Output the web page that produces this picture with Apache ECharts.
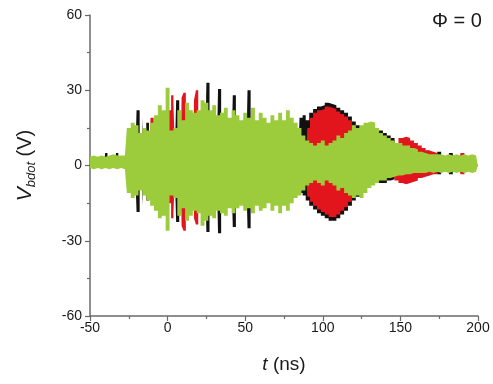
<!DOCTYPE html>
<html>
<head>
<meta charset="utf-8">
<script src="https://cdn.jsdelivr.net/npm/echarts@6/dist/echarts.min.js"></script>
<style>html,body{margin:0;padding:0;background:#fff}#c{width:493px;height:384px}</style>
</head>
<body>
<div id="c"></div>
<script>
// ---- data: envelopes of the oscillating signals ----
const greenT = [-50,-47.5,-45,-42.5,-40,-37.5,-35,-32.5,-30,-27.5,
  -25,-22.5,-20,-17.5,-15,-12.5,-10,-7.5,-5,-2.5,
  0,2.5,5,7.5,10,12.5,15,17.5,20,22.5,
  25,27.5,30,32.5,35,37.5,40,42.5,45,47.5,
  50,52.5,55,57.5,60,62.5,65,67.5,70,72.5,
  75,77.5,80,82.5,85,87.5,90,92.5,95,97.5,
  100,102.5,105,107.5,110,112.5,115,117.5,120,122.5,
  125,127.5,130,132.5,135,137.5,140,142.5,145,147.5,
  150,152.5,155,157.5,160,162.5,165,167.5,170,172.5,
  175,177.5,180,182.5,185,187.5,190,192.5,195,197.5,200];
const greenHi = [3.5,4,3.5,4,3.5,4,4.5,4,4,4,
  15,17,16,13,15,14,17,20,24,22,
  31,14,15,22,18,25,22,21,22,26,
  25,22,24,20,21,23,19,22,20,18,
  21,19,23,18,21,19,17,20,18,21,
  18,22,19,17,15,12,10,9,8,9,
  10,8,9,10,12,11,13,14,16,15,
  16,17,17.5,17,15,13,12,11,10,9,
  9,8,8,7,6.5,5.5,5,4.5,4.5,4.5,
  4.5,4,4.5,4,4.5,4,4.5,4,4.5,4,4];
const greenLo = [-1,-1.5,-1,-1.5,-1,-1.5,-1,-1.5,-1,-1.5,
  -11,-13,-12,-10,-12,-14,-16,-18,-21,-20,
  -26,-12,-13,-20,-17,-22,-20,-18,-19,-24,
  -22,-20,-21,-18,-19,-20,-17,-19,-17,-16,
  -18,-17,-19,-16,-18,-17,-15,-18,-16,-19,
  -16,-18,-15,-13,-12,-10,-8,-7,-6,-7,
  -8,-6,-7,-8,-10,-9,-11,-12,-13,-12,
  -13,-11,-9,-8,-7,-6,-6,-5,-4.5,-4,
  -4,-3.5,-3.5,-3,-3,-3,-3,-2.5,-3,-2.5,
  -3,-2.5,-3,-2.5,-3,-2.5,-3,-2.5,-3,-2.5,-3];

const blackT = [-50,-41,-39.5,-38,-34,-32.5,-31,-21,-19,-17,-16,-14.5,-13,-11,
  4.5,6.5,8.5,24,26,28,31.5,33.5,35.5,41,43,45,50.5,52.5,54.5,
  84,86,88,90,92.5,95,97.5,100,102.5,105,107.5,110,112.5,115,117.5,120,122.5,125,127.5,
  135,137.5,140,142.5,145,147.5,150,165,167.5,170,172.5,175,177.5,180,182.5,185,200];
const blackHi = [0,0,5,0,0,5,0,0,22,0,19,0,17,0,
  0,26,0,0,33,0,0,30.5,0,0,28,0,0,30,0,
  0,19,20,18,21,22.5,23.5,24,25,24.5,24,23,22,21,19.5,17.5,16,14,0,
  0,14,13,12,11,0,0,0,6,0,0,5.5,0,0,5,0,0];
const blackLo = [0,0,0,0,0,0,0,0,-18.5,0,-16,0,-14,0,
  0,-22.5,0,0,-26.5,0,0,-27,0,0,-24.5,0,0,-25,0,
  0,-11,-12,-14,-16,-17.5,-19,-20,-21,-22,-22,-21,-19.5,-18,-16,-14,-12.5,-11,0,
  0,-7,-7,-6,-5.5,0,0,0,-4,0,0,-3.5,0,0,-3.5,0,0];

const redT = [-50,-12,-10,-8,0,1.5,3,4.5,5.5,8.5,9.5,11,12.5,16.5,17.5,19,20.5,
  89,91,92.5,95,97.5,100,102.5,105,107.5,110,112.5,115,117.5,120,122.5,125,
  145,147.5,150,152.5,155,157.5,160,162.5,165,167.5,170,172.5,175,187.5,190,192.5,200];
const redHi = [0,0,19,0,0,22,28,25,0,0,27,29,0,0,26,30,0,
  0,15,19,21,22,22.5,23.5,23,22.5,21.5,20.5,19.5,18,16,14.5,0,
  0,9,11,11.5,11,10,9,8,7,6,5.5,5,0,0,5,0,0];
const redLo = [0,0,-13,0,0,-15,-21,-19,0,0,-24,-26,0,0,-21,-23.5,0,
  0,-12.5,-14.5,-16,-17.5,-18.5,-19.5,-20.5,-20.5,-19.5,-18,-16.5,-14.5,-12.5,-11,0,
  0,-6,-7,-7.5,-7,-6.5,-6,-5,-4.5,-4,-3.5,-3.5,0,0,-3.5,0,0];

const xTicks = {min: -50, max: 200, interval: 50};
const yTicks = {min: -60, max: 60, interval: 30};

// ---- chart ----
const FONT = '"Liberation Sans", Arial, sans-serif';
function pairs(t, v) { return t.map((x, i) => [x, v[i]]); }
function band(name, color, t, v, origin, z) {
  return {
    name: name, type: 'line', step: 'middle', data: pairs(t, v), z: z,
    showSymbol: false, silent: true, animation: false,
    lineStyle: {width: 0, opacity: 0, color: color},
    itemStyle: {color: color},
    areaStyle: {color: color, opacity: 1, origin: origin}
  };
}
const BLACK = '#111111', RED = '#e3151c', GREEN = '#9ccb3b';
const chart = echarts.init(document.getElementById('c'), null, {renderer: 'canvas'});
chart.setOption({
  backgroundColor: '#ffffff',
  animation: false,
  grid: {left: 90, right: 15, top: 15, bottom: 68, containLabel: false},
  xAxis: {
    type: 'value', min: xTicks.min, max: xTicks.max, interval: xTicks.interval,
    splitLine: {show: false},
    axisLine: {onZero: false, lineStyle: {color: '#6a6a6a', width: 1.5}},
    axisTick: {length: 5, lineStyle: {color: '#6a6a6a', width: 1.2}},
    minorTick: {show: true, splitNumber: 2, length: 3, lineStyle: {color: '#6a6a6a', width: 1.2}},
    axisLabel: {color: '#1a1a1a', fontSize: 14, fontFamily: FONT, margin: 5},
    name: '{i|t} (ns)', nameLocation: 'middle', nameGap: 39,
    nameTextStyle: {color: '#1a1a1a', fontSize: 19, fontFamily: FONT,
      rich: {i: {fontStyle: 'italic', fontSize: 19, fontFamily: FONT, color: '#1a1a1a'}}}
  },
  yAxis: {
    type: 'value', min: yTicks.min, max: yTicks.max, interval: yTicks.interval,
    splitLine: {show: false},
    axisLine: {onZero: false, lineStyle: {color: '#6a6a6a', width: 1.5}},
    axisTick: {length: 5, lineStyle: {color: '#6a6a6a', width: 1.2}},
    minorTick: {show: true, splitNumber: 2, length: 3, lineStyle: {color: '#6a6a6a', width: 1.2}},
    axisLabel: {color: '#1a1a1a', fontSize: 14, fontFamily: FONT, margin: 8},
    name: '{v|V}{s|bdot}{n| (V)}', nameLocation: 'middle', nameGap: 52, nameRotate: 90,
    nameTextStyle: {color: '#1a1a1a', fontSize: 20, fontFamily: FONT,
      rich: {
        v: {fontStyle: 'italic', fontSize: 21, fontFamily: FONT, color: '#1a1a1a', lineHeight: 26},
        s: {fontStyle: 'italic', fontSize: 13, fontFamily: FONT, color: '#1a1a1a', lineHeight: 26, padding: [12, 0, 0, 0]},
        n: {fontSize: 20, fontFamily: FONT, color: '#1a1a1a', lineHeight: 26}
      }}
  },
  graphic: [{
    type: 'text', left: 432, top: 11,
    style: {text: 'Φ = 0', fontSize: 20, fontFamily: FONT, fill: '#1a1a1a'}
  }],
  series: [
    band('black+', BLACK, blackT, blackHi, -0.6, 2),
    band('black-', BLACK, blackT, blackLo, 0.6, 2),
    band('red+', RED, redT, redHi, -0.6, 3),
    band('red-', RED, redT, redLo, 0.6, 3),
    band('green+', GREEN, greenT, greenHi, -0.6, 4),
    band('green-', GREEN, greenT, greenLo, 0.6, 4)
  ]
});
</script>
</body>
</html>
